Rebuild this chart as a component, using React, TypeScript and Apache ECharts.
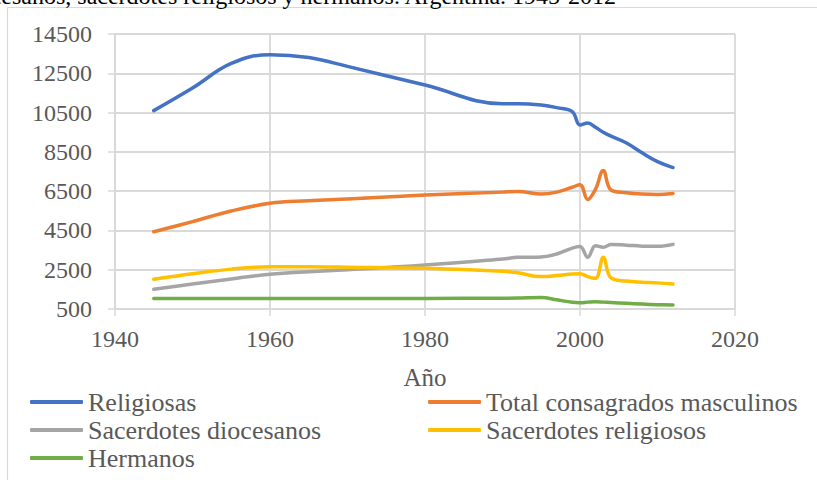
import React, { useEffect, useRef } from "react";
import * as echarts from "echarts";

const years = [1945, 1950, 1955, 1960, 1965, 1970, 1980, 1990, 1992, 1995, 1997, 1999, 2000, 2001, 2002, 2003, 2004, 2006, 2008, 2010, 2012];
const religiosas = [10600, 11750, 13000, 13450, 13300, 12850, 11900, 10950, 10950, 10880, 10750, 10550, 9870, 9970, 9750, 9500, 9300, 8950, 8450, 8000, 7700];
const totalMasculinos = [4430, 4950, 5490, 5880, 6010, 6100, 6300, 6450, 6480, 6350, 6450, 6700, 6830, 6080, 6600, 7550, 6560, 6420, 6350, 6330, 6380];
const diocesanos = [1500, 1770, 2030, 2270, 2400, 2500, 2740, 3050, 3130, 3150, 3300, 3600, 3680, 3130, 3720, 3640, 3790, 3750, 3700, 3690, 3790];
const sacReligiosos = [2010, 2290, 2530, 2650, 2650, 2630, 2570, 2420, 2340, 2150, 2200, 2280, 2300, 2150, 2060, 3130, 2080, 1920, 1860, 1830, 1770];
const hermanos = [1040, 1035, 1030, 1030, 1030, 1030, 1040, 1050, 1060, 1090, 970, 840, 820, 850, 870, 850, 830, 790, 750, 720, 700];

const seriesNames = ["Religiosas", "Total consagrados masculinos", "Sacerdotes diocesanos", "Sacerdotes religiosos", "Hermanos"];
const seriesValues = [religiosas, totalMasculinos, diocesanos, sacReligiosos, hermanos];
const colors = ["#4472C4", "#ED7D31", "#A5A5A5", "#FFC000", "#70AD47"];
const yTicks = [500, 2500, 4500, 6500, 8500, 10500, 12500, 14500];
const xTicks = [1940, 1960, 1980, 2000, 2020];
const xName = "Año";
const topText = "diocesanos, sacerdotes religiosos y hermanos. Argentina. 1945-2012";

const FONT = "'Liberation Serif', 'Times New Roman', serif";
const GRID = "#d9d9d9";
const TEXT = "#595959";

export default function App() {
  const ref = useRef<HTMLDivElement>(null);
  useEffect(() => {
    document.body.style.margin = "0";
    const chart = echarts.init(ref.current!, null, { renderer: "svg" });
    const legendBase = {
      orient: "vertical",
      top: 388,
      height: 90,
      padding: 0,
      itemWidth: 53,
      itemHeight: 4,
      itemGap: 0,
      icon: "roundRect",
      selectedMode: false,
      textStyle: { fontFamily: FONT, fontSize: 26, color: TEXT, lineHeight: 28 },
    };
    chart.setOption({
      animation: false,
      backgroundColor: "#ffffff",
      grid: { left: 115, right: 82, top: 34, bottom: 171, containLabel: false, outerBoundsMode: "none" },
      xAxis: {
        type: "value",
        min: xTicks[0],
        max: xTicks[xTicks.length - 1],
        interval: 20,
        name: xName,
        nameLocation: "middle",
        nameGap: 56,
        nameTextStyle: { fontFamily: FONT, fontSize: 25, color: TEXT },
        axisLine: { show: true, lineStyle: { color: GRID, width: 1.5 } },
        axisTick: { show: true, length: 7, lineStyle: { color: GRID, width: 1.5 } },
        axisLabel: { fontFamily: FONT, fontSize: 24, color: TEXT, margin: 18, formatter: (v: number) => String(v) },
        splitLine: { show: true, lineStyle: { color: GRID, width: 1.8 } },
      },
      yAxis: {
        type: "value",
        min: yTicks[0],
        max: yTicks[yTicks.length - 1],
        axisLine: { show: true, lineStyle: { color: GRID, width: 1.5 } },
        axisTick: { show: true, length: 7, lineStyle: { color: GRID, width: 1.5 }, customValues: yTicks },
        axisLabel: { fontFamily: FONT, fontSize: 24, color: TEXT, margin: 23, customValues: yTicks, formatter: (v: number) => String(v) },
        splitLine: { show: true, lineStyle: { color: GRID, width: 1.8 } },
      },
      legend: [
        { ...legendBase, left: 30, data: [seriesNames[0], seriesNames[2], seriesNames[4]] },
        { ...legendBase, left: 428, data: [seriesNames[1], seriesNames[3]] },
      ],
      series: seriesNames.map((name, k) => ({
        name,
        type: "line",
        smooth: 0.4,
        showSymbol: false,
        symbol: "none",
        color: colors[k],
        itemStyle: { color: colors[k] },
        lineStyle: { color: colors[k], width: 3.5, cap: "round", join: "round" },
        data: years.map((y, i) => [y, seriesValues[k][i]]),
      })),
      graphic: [
        {
          type: "rect",
          shape: { x: 7.5, y: 7.5, width: 900, height: 600 },
          style: { fill: "none", stroke: GRID, lineWidth: 1.2 },
          silent: true,
          z: -1,
        },
        {
          type: "text",
          x: -40,
          y: 8,
          style: { text: topText, fontFamily: FONT, fontSize: 24, fill: "#000000", textVerticalAlign: "bottom" },
          silent: true,
        },
      ],
    });
    return () => chart.dispose();
  }, []);
  return <div ref={ref} style={{ width: 817, height: 480 }} />;
}
